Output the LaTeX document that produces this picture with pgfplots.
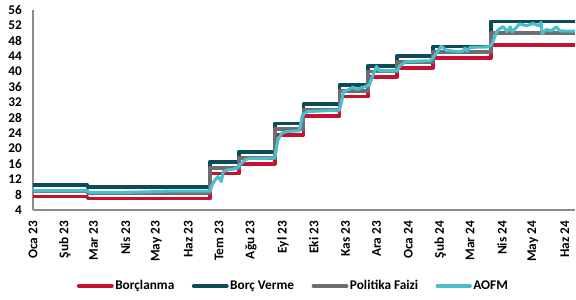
\documentclass[border=0pt]{standalone}
\usepackage{fontspec}
\setmainfont{Carlito}
\usepackage{pgfplots}
\pgfplotsset{compat=1.18}
\definecolor{cRed}{HTML}{C41230}
\definecolor{cTeal}{HTML}{0D4A5A}
\definecolor{cGray}{HTML}{6E6E72}
\definecolor{cCyan}{HTML}{4BBECD}
\newcommand{\lblfont}{\bfseries\fontsize{13.3bp}{15bp}\selectfont}
\begin{document}
\begin{tikzpicture}
\useasboundingbox (0,0) rectangle (576bp,300bp);
\begin{axis}[
  at={(33bp,90bp)}, anchor=south west,
  scale only axis, width=542bp, height=200bp,
  xmin=0, xmax=527, ymin=4, ymax=56,
  axis x line*=bottom, axis y line*=left,
  axis line style={-, draw=black!45, line width=1.3bp},
  ytick={4,8,...,56},
  xtick={0,31,59,90,120,151,181,212,243,273,304,334,365,396,425,456,486,517},
  xticklabels={Oca 23,Şub 23,Mar 23,Nis 23,May 23,Haz 23,Tem 23,Ağu 23,Eyl 23,Eki 23,Kas 23,Ara 23,Oca 24,Şub 24,Mar 24,Nis 24,May 24,Haz 24},
  major tick length=0pt,
  tick label style={font=\lblfont},
  /pgf/number format/assume math mode=true,
  xticklabel style={rotate=90, anchor=east},
  xticklabel shift=7.5bp,
  yticklabel shift=7.5bp,
  legend style={at={(axis description cs:0.48,-0.38)}, anchor=center, draw=none, fill=none,
    legend columns=4, font=\lblfont, inner sep=0pt,
    nodes={inner xsep=1.5bp},
    /tikz/every even column/.append style={column sep=16bp}},
  legend image code/.code={\draw[#1, line cap=round] (0bp,0bp) -- (33bp,0bp);},
  every axis plot/.append style={line join=round, no markers},
]
\addplot[const plot, cRed, line width=3.9bp] coordinates {
(0,7.5)(53,7)(172,13.5)(200,16)(235,23.5)(263,28.5)(298,33.5)(326,38.5)(354,41)(389,43.5)(445,47)(527,47)};
\addlegendentry{Borçlanma}
\addplot[const plot, cTeal, line width=3.9bp] coordinates {
(0,10.5)(53,10)(172,16.5)(200,19)(235,26.5)(263,31.5)(298,36.5)(326,41.5)(354,44)(389,46.5)(445,53)(527,53)};
\addlegendentry{Borç Verme}
\addplot[const plot, cGray, line width=3.9bp] coordinates {
(0,9)(53,8.5)(172,15)(200,17.5)(235,25)(263,30)(298,35)(326,40)(354,42.5)(389,45)(445,50)(527,50)};
\addlegendentry{Politika Faizi}
\addplot[cCyan, line width=3.1bp] coordinates {
(0,9.0)(52,9.0)(55,8.6)(90,8.6)(110,8.7)(130,8.9)(160,8.9)(172,8.9)
(174,10.5)(177,11.8)(180,12.7)(183,11.4)(185,14.0)(189,14.4)(198,14.8)(201,15.7)(206,17.0)(210,17.4)
(235,17.5)(238,22.2)(242,24.0)(247,24.4)(259,24.6)(262,28.7)(267,29.6)(298,30.0)
(300,32.2)(302,34.8)(306,35.2)(311,35.9)(315,35.4)(322,36.0)(327,36.5)(330,38.7)(334,41.3)(337,40.2)
(354,40.2)(357,41.6)(363,42.6)(386,42.8)(389,43.6)(393,45.0)(397,46.6)(402,45.5)(412,45.2)(418,45.3)
(420,46.1)(422,45.3)(425,46.3)(442,46.4)(446,47.0)(449,49.1)(452,50.8)(457,51.7)(461,50.4)(464,51.6)
(466,50.3)(473,52.4)(480,51.9)(486,52.5)(492,51.9)(494,52.8)(495,49.9)(499,50.9)(504,50.6)(509,51.6)
(512,50.6)(517,50.5)(527,50.5)};
\addlegendentry{AOFM}
\end{axis}
\end{tikzpicture}
\end{document}
